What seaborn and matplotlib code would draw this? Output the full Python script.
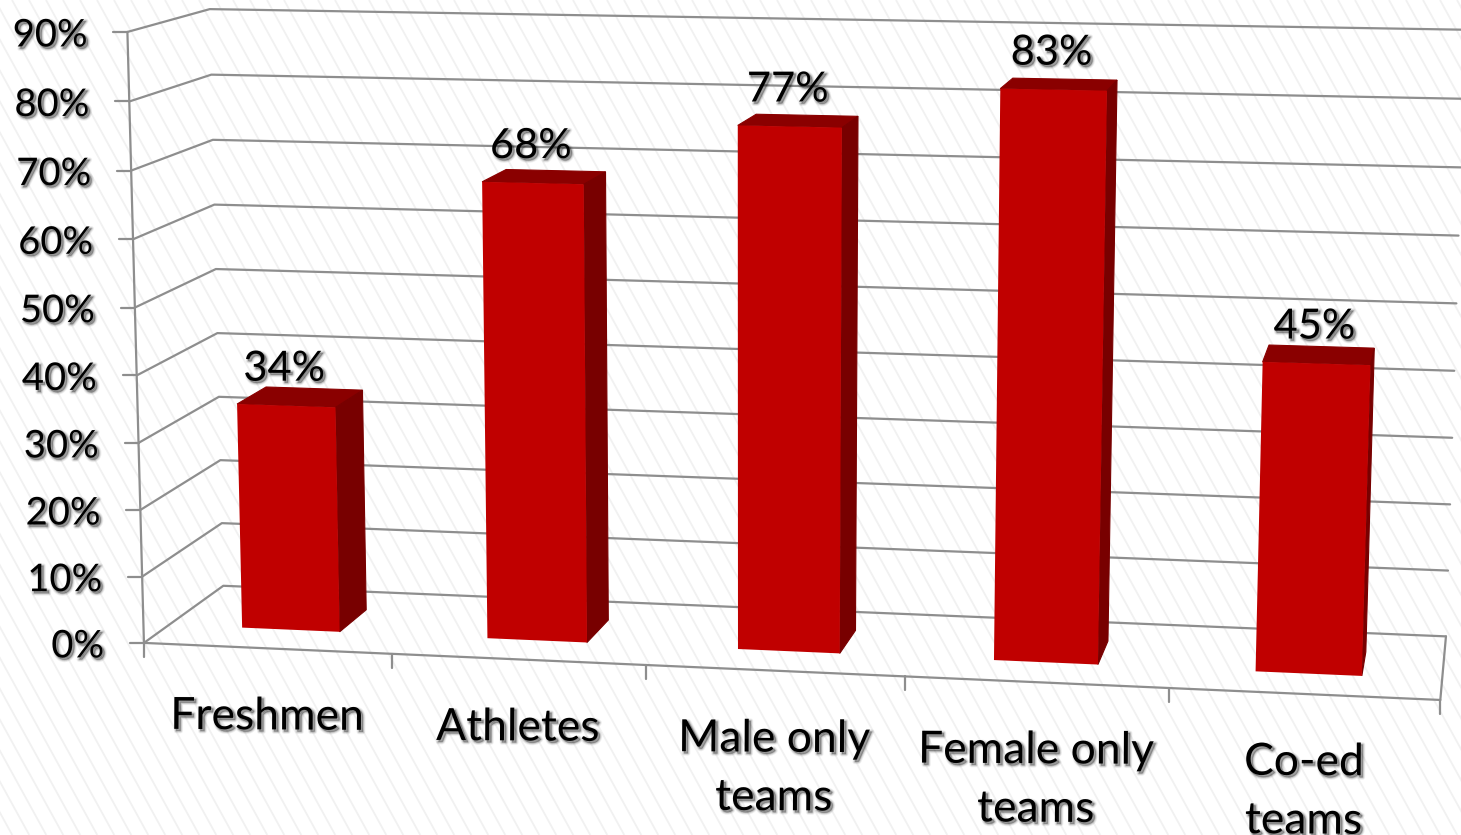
import numpy as np
import matplotlib
matplotlib.use("Agg")
import matplotlib.pyplot as plt
import matplotlib.patheffects as pe
from matplotlib.collections import LineCollection
from matplotlib.patches import Polygon
from matplotlib.transforms import Affine2D, Transform
import seaborn as sns

categories = ["Freshmen", "Athletes", "Male only\nteams", "Female only\nteams", "Co-ed\nteams"]
values = [34, 68, 77, 83, 45]
value_labels = ["34%", "68%", "77%", "83%", "45%"]
y_ticks = [0, 10, 20, 30, 40, 50, 60, 70, 80, 90]
y_tick_labels = ["0%", "10%", "20%", "30%", "40%", "50%", "60%", "70%", "80%", "90%"]

WIDTH, HEIGHT = 1461, 835
BAR_WIDTH = 0.4
BAR_FRONT, BAR_BACK = 0.31, 0.69
FRONT_COLOR, TOP_COLOR, SIDE_COLOR = "#C00000", "#8A0000", "#780000"
GRID_COLOR = "#8E8E8E"
STRIPE_COLOR = "#F1F1F1"

# Camera calibration: where the corners of the chart box land on the canvas.
box_points = np.array([
    [0, 0, 0], [1, 0, 0], [2, 0, 0], [3, 0, 0], [4, 0, 0], [5, 0, 0],
    [0, 40, 0], [0, 90, 0],
    [0, 0, 1], [5, 0, 1], [0, 90, 1], [5, 90, 1],
], float)
canvas_points = np.array([
    [145, 643], [391, 654], [645, 665], [905, 676.5], [1170, 688], [1440, 700],
    [137, 375], [127, 32],
    [223, 586], [1446, 636], [210, 9], [1465, 30],
], float)


def solve_camera(box, canvas):
    rows = []
    for (x, y, z), (u, v) in zip(box, canvas):
        p = [x / 5, y / 90, z, 1]
        u, v = u / 1000, v / 1000
        rows.append(p + [0, 0, 0, 0] + [-u * c for c in p])
        rows.append([0, 0, 0, 0] + p + [-v * c for c in p])
    return np.linalg.svd(np.array(rows))[2][-1].reshape(3, 4)


CAMERA = solve_camera(box_points, canvas_points)


def project(x, y, z):
    x, y, z = np.broadcast_arrays(np.asarray(x, float), np.asarray(y, float), np.asarray(z, float))
    h = CAMERA @ np.stack([x / 5, y / 90, z, np.ones_like(x)])
    return np.stack([h[0] / h[2], h[1] / h[2]], axis=-1) * 1000


class PlaneProjection(Transform):
    """Maps (category, value) on the depth plane z to canvas pixels."""
    input_dims = output_dims = 2
    is_separable = False
    has_inverse = False

    def __init__(self, z):
        super().__init__()
        self.z = z

    def transform_non_affine(self, values):
        values = np.asarray(values, float)
        return project(values[:, 0], values[:, 1], self.z)


sns.set_theme(style="white")
plt.rcParams["font.family"] = ["Lato", "DejaVu Sans"]

fig = plt.figure(figsize=(WIDTH / 100, HEIGHT / 100), dpi=100, facecolor="white")
ax = fig.add_axes([0, 0, 1, 1])

canvas = Affine2D().scale(1, -1).translate(0, HEIGHT)
bar_plane = Affine2D().translate(0.5, 0) + PlaneProjection(BAR_FRONT) + canvas

sns.barplot(x=list(range(len(categories))), y=values, color=FRONT_COLOR, saturation=1,
            width=BAR_WIDTH, ax=ax, zorder=5, linewidth=0)
ax.set_axis_off()

# Faint diagonal stripes across the slide background.
offsets = np.arange(-600, WIDTH + 17, 17.0)
stripes = [[(o, 0), (o + 0.55 * HEIGHT, HEIGHT)] for o in offsets]
ax.add_collection(LineCollection(stripes, colors=STRIPE_COLOR, linewidths=1.3, transform=canvas, zorder=0))

# Walls: each gridline runs along the left wall, then across the back wall.
grid_style = dict(color=GRID_COLOR, lw=1.6, transform=canvas, zorder=2, solid_capstyle="round")
for tick, label in zip(y_ticks, y_tick_labels):
    wall = project([0, 0, 5], tick, [0, 1, 1])
    ax.plot(wall[:, 0], wall[:, 1], **grid_style)
    px, py = project(0, tick, 0)
    ax.plot([px - 14, px], [py, py], **grid_style)
    ax.text(px - 40, py + 3.5, label, transform=canvas, ha="right", va="center", fontsize=27.5,
            color="black", zorder=8)

# Axis edges and floor.
for start, end in [((0, 0, 0), (0, 90, 0)), ((0, 0, 0), (5, 0, 0)), ((5, 0, 0), (5, 0, 1))]:
    seg = project(*np.array([start, end]).T)
    ax.plot(seg[:, 0], seg[:, 1], **grid_style)
for i in range(len(categories) + 1):
    px, py = project(i, 0, 0)
    ax.plot([px, px], [py, py + 14], **grid_style)

# Bars: seaborn draws the front faces; the top and side faces follow from the same values.
for i, (patch, value) in enumerate(zip(ax.patches, values)):
    patch.set_transform(bar_plane)
    patch.set_clip_on(False)
    x0, x1 = i + 0.5 - BAR_WIDTH / 2, i + 0.5 + BAR_WIDTH / 2
    top = project([x0, x1, x1, x0], value, [BAR_FRONT, BAR_FRONT, BAR_BACK, BAR_BACK])
    side = project(x1, [value, value, 0, 0], [BAR_FRONT, BAR_BACK, BAR_BACK, BAR_FRONT])
    ax.add_patch(Polygon(top, closed=True, fc=TOP_COLOR, ec=TOP_COLOR, lw=0.8, transform=canvas, zorder=4, clip_on=False))
    ax.add_patch(Polygon(side, closed=True, fc=SIDE_COLOR, ec=SIDE_COLOR, lw=0.8, transform=canvas, zorder=4.1, clip_on=False))
    px, py = project(i + 0.5, value, BAR_FRONT)
    ax.text(px - 2, py - 37, value_labels[i], transform=canvas, ha="center", va="center",
            fontsize=30, color="black", zorder=8)

for i, name in enumerate(categories):
    px, py = project(i + 0.5, 0, 0)
    ax.text(px, py + 48, name, transform=canvas, ha="center", va="top", fontsize=32,
            color="black", linespacing=1.53, zorder=8, rotation=-0.3, rotation_mode="anchor")

# Soft drop shadow behind every label.
shadow = [pe.Stroke(linewidth=w, foreground="black", alpha=a, offset=(1.5, -1.5))
          for w, a in [(3.5, 0.06), (2.2, 0.1), (1.0, 0.16)]] + [pe.Normal()]
for text in ax.texts:
    text.set_path_effects(shadow)

ax.set_xlim(0, 1)
fig.savefig("out.png", dpi=100)
